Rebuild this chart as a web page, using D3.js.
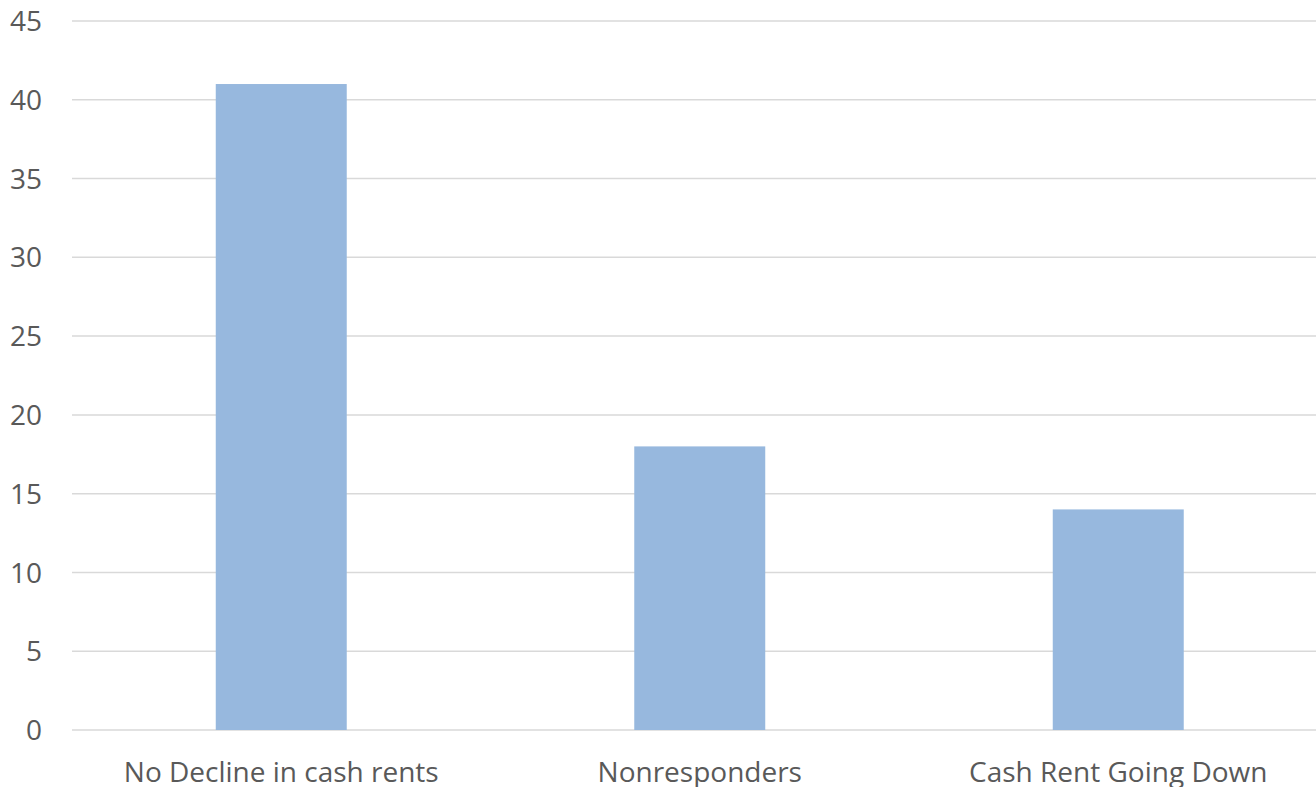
<!DOCTYPE html>
<html>
<head>
<meta charset="utf-8">
<script src="https://cdn.jsdelivr.net/npm/d3@7"></script>
<style>
  body { margin: 0; background: #fff; }
  svg text { font-family: "Open Sans", "Liberation Sans", sans-serif; fill: #595959; }
</style>
</head>
<body>
<div id="chart"></div>
<script>
// chart values
var categories = ["No Decline in cash rents", "Nonresponders", "Cash Rent Going Down"];
var counts = [41, 18, 14];
var yTicks = [0, 5, 10, 15, 20, 25, 30, 35, 40, 45];

var width = 1316, height = 787;
var plotLeft = 72, plotTop = 21, plotBottom = 730;
var step = 418.5;

var svg = d3.select("#chart")
    .append("svg")
    .attr("width", width)
    .attr("height", height);

var x = d3.scaleBand()
    .domain(categories)
    .range([plotLeft, plotLeft + step * categories.length])
    .padding(0);

var y = d3.scaleLinear()
    .domain([0, 45])
    .range([plotBottom, plotTop]);

var barW = x.bandwidth() * 0.313;

// gridlines
svg.append("g")
    .selectAll("line")
    .data(yTicks)
    .enter().append("line")
    .attr("x1", plotLeft)
    .attr("x2", width)
    .attr("y1", function(d){ return y(d); })
    .attr("y2", function(d){ return y(d); })
    .attr("stroke", "#d9d9d9")
    .attr("stroke-width", 1.5);

// y tick labels
svg.append("g")
    .selectAll("text")
    .data(yTicks)
    .enter().append("text")
    .attr("x", 42)
    .attr("y", function(d){ return y(d); })
    .attr("dy", ".36em")
    .attr("text-anchor", "end")
    .style("font-size", "28px")
    .text(function(d){ return d; });

// bars
svg.append("g")
    .selectAll("rect")
    .data(counts)
    .enter().append("rect")
    .attr("x", function(d, i){ return x(categories[i]) + (x.bandwidth() - barW) / 2; })
    .attr("y", function(d){ return y(d); })
    .attr("width", barW)
    .attr("height", function(d){ return y(0) - y(d); })
    .attr("fill", "#97b8de");

// category labels
svg.append("g")
    .selectAll("text")
    .data(categories)
    .enter().append("text")
    .attr("x", function(d){ return x(d) + x.bandwidth() / 2; })
    .attr("y", 772)
    .attr("dy", ".36em")
    .attr("text-anchor", "middle")
    .style("font-size", "28px")
    .text(function(d){ return d; });
</script>
</body>
</html>
